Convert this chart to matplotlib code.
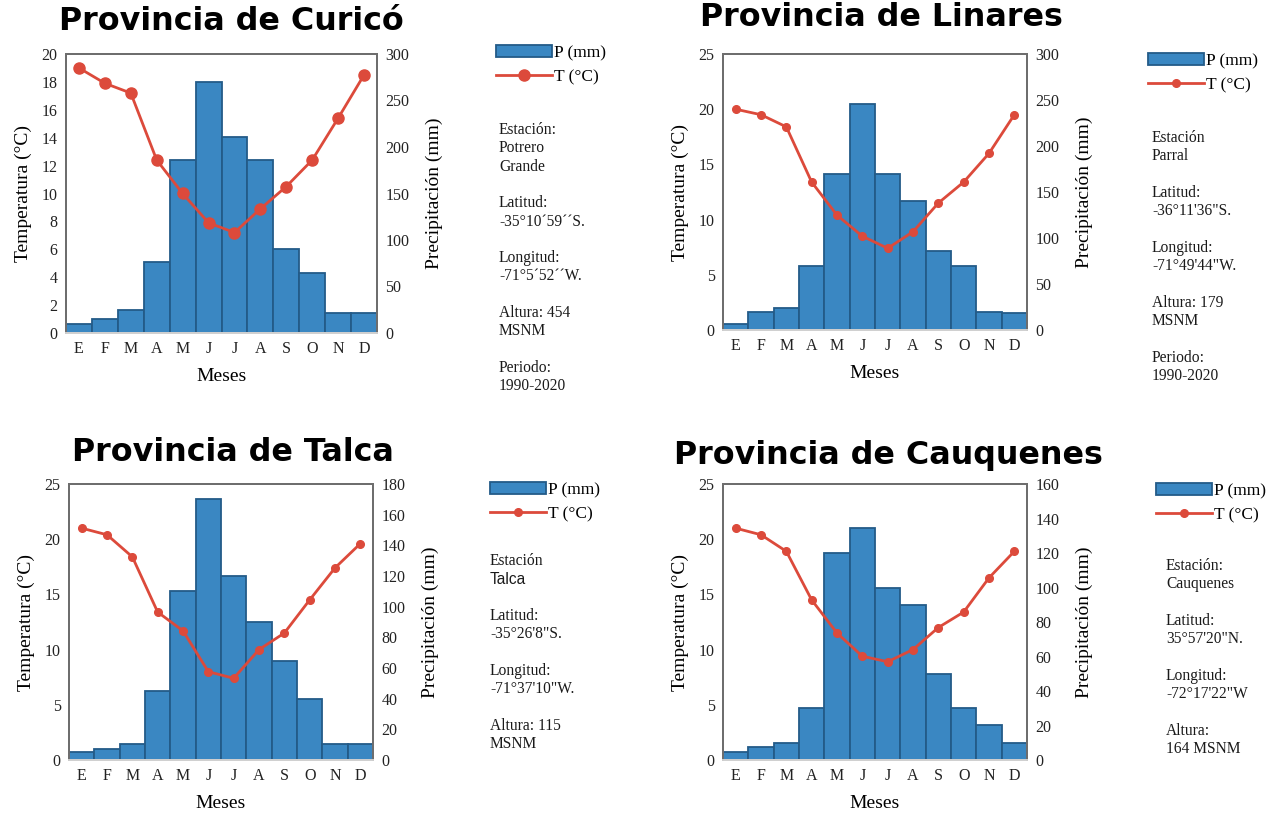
import numpy as np
import matplotlib.pyplot as plt
from matplotlib.patches import Patch
from matplotlib.lines import Line2D

plt.rcParams["font.family"] = "Liberation Serif"

meses = ["E", "F", "M", "A", "M", "J", "J", "A", "S", "O", "N", "D"]

# Curicó - Potrero Grande
p_curico = [10, 15, 25, 76, 186, 270, 211, 186, 90, 65, 21, 21]
t_curico = [19.0, 17.9, 17.2, 12.4, 10.0, 7.9, 7.2, 8.9, 10.5, 12.4, 15.4, 18.5]
info_curico = ["Estación:", "Potrero", "Grande", "", "Latitud:", "-35°10´59´´S.", "",
               "Longitud:", "-71°5´52´´W.", "", "Altura: 454", "MSNM", "",
               "Periodo:", "1990-2020"]

# Linares - Parral
p_linares = [6, 20, 24, 70, 170, 246, 170, 140, 86, 70, 20, 18]
t_linares = [20.0, 19.5, 18.4, 13.4, 10.4, 8.5, 7.4, 8.9, 11.5, 13.4, 16.0, 19.5]
info_linares = ["Estación", "Parral", "", "Latitud:", "-36°11'36\"S.", "",
                "Longitud:", "-71°49'44\"W.", "", "Altura: 179", "MSNM", "",
                "Periodo:", "1990-2020"]

# Talca
p_talca = [5, 7, 10.4, 45, 110, 170, 120, 90, 64.6, 39.6, 10.4, 10.4]
t_talca = [21.0, 20.4, 18.4, 13.4, 11.7, 8.0, 7.4, 10.0, 11.5, 14.5, 17.4, 19.6]
info_talca = ["Estación", "Talca", "", "Latitud:", "-35°26'8\"S.", "",
              "Longitud:", "-71°37'10\"W.", "", "Altura: 115", "MSNM"]

# Cauquenes
p_cauquenes = [4.6, 7.7, 10, 30, 120, 134.7, 99.7, 90, 50, 30, 20.3, 10]
t_cauquenes = [21.0, 20.4, 18.9, 14.5, 11.5, 9.4, 8.9, 10.0, 12.0, 13.4, 16.5, 18.9]
info_cauquenes = ["Estación:", "Cauquenes", "", "Latitud:", "35°57'20\"N.", "",
                  "Longitud:", "-72°17'22\"W", "", "Altura:", "164 MSNM"]

azul = "#3a87c2"
borde = "#235b88"
rojo = "#dc4a3b"

W, H = 1278, 821
fig = plt.figure(figsize=(W / 100, H / 100), dpi=100)


def px(x0, y0, x1, y1):
    # caja en pixeles (desde arriba) -> coordenadas de figura
    return [x0 / W, 1 - y1 / H, (x1 - x0) / W, (y1 - y0) / H]


def climograma(caja, titulo, tit_xy, p, t, tmax, tstep, pmax, pstep, ms,
               ley_xy, info, info_xy, sans=()):
    ax = fig.add_axes(px(*caja))
    ax2 = ax.twinx()
    x = np.arange(len(meses))

    ax2.bar(x, p, width=1.0, color=azul, edgecolor=borde, linewidth=1.3)
    ax.plot(x, t, color=rojo, linewidth=2, marker="o", markersize=ms)

    # temperatura por encima de las barras
    ax.set_zorder(ax2.get_zorder() + 1)
    ax.patch.set_visible(False)

    ax.set_xlim(-0.5, 11.5)
    ax.set_ylim(0, tmax)
    ax2.set_ylim(0, pmax)
    ax.set_yticks(np.arange(0, tmax + 0.1, tstep))
    ax2.set_yticks(np.arange(0, pmax + 0.1, pstep))
    ax.set_xticks(x)
    ax.set_xticklabels(meses)

    for a in (ax, ax2):
        a.tick_params(length=0, labelsize=11.5, colors="#222222", pad=6)
        for s in a.spines.values():
            s.set_color("#6e6e6e")
            s.set_linewidth(1.4)
        a.spines["bottom"].set_color("#d0d0d0")

    ax.set_xlabel("Meses", fontsize=14, labelpad=8)
    ax.set_ylabel("Temperatura (°C)", fontsize=14, labelpad=7)
    ax2.set_ylabel("Precipitación (mm)", fontsize=14, labelpad=12)

    fig.text(tit_xy[0] / W, 1 - tit_xy[1] / H, titulo, ha="center", va="center",
             fontsize=22.9, fontweight="bold", family="DejaVu Sans", color="black")

    handles = [Patch(facecolor=azul, edgecolor=borde, linewidth=1.3),
               Line2D([], [], color=rojo, linewidth=2, marker="o", markersize=ms)]
    ax.legend(handles, ["P (mm)", "T (°C)"], loc="upper left",
              bbox_to_anchor=(ley_xy[0] / W, 1 - ley_xy[1] / H),
              bbox_transform=fig.transFigure, frameon=False, fontsize=12.5,
              handlelength=3.2, handleheight=0.7, handletextpad=0.15,
              borderpad=0, borderaxespad=0, labelspacing=0.45)

    for i, linea in enumerate(info):
        fam = "Liberation Sans" if i in sans else "Liberation Serif"
        fig.text(info_xy[0] / W, 1 - (info_xy[1] + i * 18.3) / H, linea,
                 ha="left", va="center", fontsize=11.2, family=fam, color="#1a1a1a")


climograma((66, 54, 377, 333), "Provincia de Curicó", (231, 21), p_curico, t_curico,
           20, 2, 300, 50, 8, (496, 45), info_curico, (499, 130))
climograma((723, 54, 1027, 330), "Provincia de Linares", (881, 17), p_linares, t_linares,
           25, 5, 300, 50, 5.5, (1148, 53), info_linares, (1152, 138))
climograma((69, 484, 373, 760), "Provincia de Talca", (233, 452), p_talca, t_talca,
           25, 5, 180, 20, 5.5, (490, 482), info_talca, (490, 561), sans=(1,))
climograma((723, 484, 1027, 760), "Provincia de Cauquenes", (888, 455), p_cauquenes, t_cauquenes,
           25, 5, 160, 20, 5.5, (1156, 483), info_cauquenes, (1166, 566))

fig.savefig("out.png", dpi=100)
